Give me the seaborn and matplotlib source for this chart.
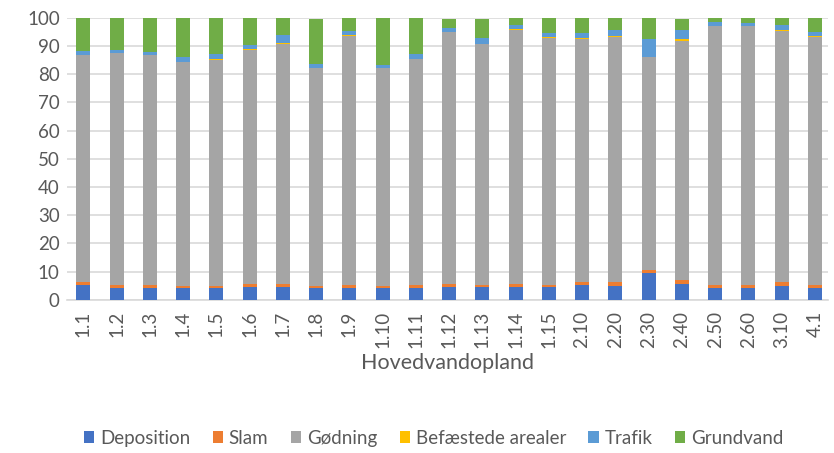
import matplotlib
matplotlib.use("Agg")
import matplotlib.pyplot as plt
import numpy as np
import pandas as pd
import seaborn as sns
from matplotlib.patches import Patch

categories = ["1.1", "1.2", "1.3", "1.4", "1.5", "1.6", "1.7", "1.8", "1.9", "1.10",
              "1.11", "1.12", "1.13", "1.14", "1.15", "2.10", "2.20", "2.30", "2.40",
              "2.50", "2.60", "3.10", "4.1"]
deposition = [5.4, 4.1, 4.1, 4.1, 4.1, 4.5, 4.5, 4.1, 4.1, 4.1, 4.1, 4.6, 4.6, 4.6,
              4.6, 5.4, 4.9, 9.4, 5.8, 4.1, 4.1, 4.9, 4.1]
slam = [0.8, 1.3, 1.3, 0.8, 0.8, 1.3, 1.3, 0.8, 1.3, 0.8, 1.3, 1.2, 0.8, 1.2, 0.8,
        0.8, 1.3, 1.2, 1.3, 1.3, 1.3, 1.3, 1.3]
goedning = [80.5, 82.1, 81.3, 79.3, 80.1, 82.8, 84.8, 77.1, 88.2, 77.1, 79.8, 89.1,
            85.3, 89.9, 87.4, 86.1, 87.0, 75.3, 84.8, 91.5, 91.5, 89.1, 87.8]
befaestede = [0.1, 0.1, 0.1, 0.1, 0.4, 0.4, 0.4, 0.1, 0.1, 0.1, 0.1, 0.1, 0.1, 0.3,
              0.4, 0.4, 0.4, 0.2, 0.4, 0.1, 0.1, 0.5, 0.4]
trafik = [1.4, 1.1, 1.1, 1.6, 1.6, 1.3, 2.7, 1.4, 1.4, 1.3, 1.7, 1.4, 2.1, 1.4, 1.2,
          1.7, 2.1, 6.2, 3.4, 1.6, 1.1, 1.5, 1.4]
grundvand = [11.8, 11.1, 11.9, 13.9, 12.8, 9.5, 6.3, 15.9, 4.9, 16.6, 13.0, 3.0, 6.5,
             2.6, 5.6, 5.6, 4.1, 7.5, 3.7, 1.4, 1.9, 2.7, 5.0]

series = ["Deposition", "Slam", "Gødning", "Befæstede arealer", "Trafik", "Grundvand"]
colors = ["#4472C4", "#ED7D31", "#A5A5A5", "#FFC000", "#5B9BD5", "#70AD47"]

df = pd.DataFrame({
    "Deposition": deposition,
    "Slam": slam,
    "Gødning": goedning,
    "Befæstede arealer": befaestede,
    "Trafik": trafik,
    "Grundvand": grundvand,
}, index=categories)
cum = df.cumsum(axis=1)

sns.set_style("white")
plt.rcParams["font.family"] = ["Lato", "DejaVu Sans"]
text_col = "#595959"

fig = plt.figure(figsize=(8.34, 4.53), dpi=100)
ax = fig.add_axes([0.080, 0.338, 0.913, 0.623])

# draw the stack top-down so each lower segment covers the one above it
for name, col in reversed(list(zip(series, colors))):
    sns.barplot(x=categories, y=cum[name].values, color=col, width=0.42,
                saturation=1, ax=ax, zorder=3, linewidth=0)

ax.set_ylim(0, 100)
ax.set_xlim(-0.5, 22.4)
ax.set_yticks(range(0, 101, 10))
ax.yaxis.grid(True, color="#D9D9D9", linewidth=1.2, zorder=0)
ax.xaxis.grid(False)
for s in ["top", "right", "left"]:
    ax.spines[s].set_visible(False)
ax.spines["bottom"].set_color("#D9D9D9")
ax.spines["bottom"].set_linewidth(1.2)
ax.tick_params(axis="both", length=0, colors=text_col, labelsize=13.5)
ax.tick_params(axis="x", rotation=90, pad=8)
ax.tick_params(axis="y", pad=5)
ax.set_xlabel("Hovedvandopland", color=text_col, fontsize=15.5, labelpad=3)
ax.set_ylabel("")

handles = [Patch(facecolor=c, edgecolor="none") for c in colors]
fig.legend(handles, series, loc="center", bbox_to_anchor=(0.52, 0.033), ncol=6,
           frameon=False, fontsize=13.5, labelcolor=text_col, handlelength=0.55,
           handleheight=0.55, handletextpad=0.3, columnspacing=1.2)

fig.savefig("out.png", dpi=100)
